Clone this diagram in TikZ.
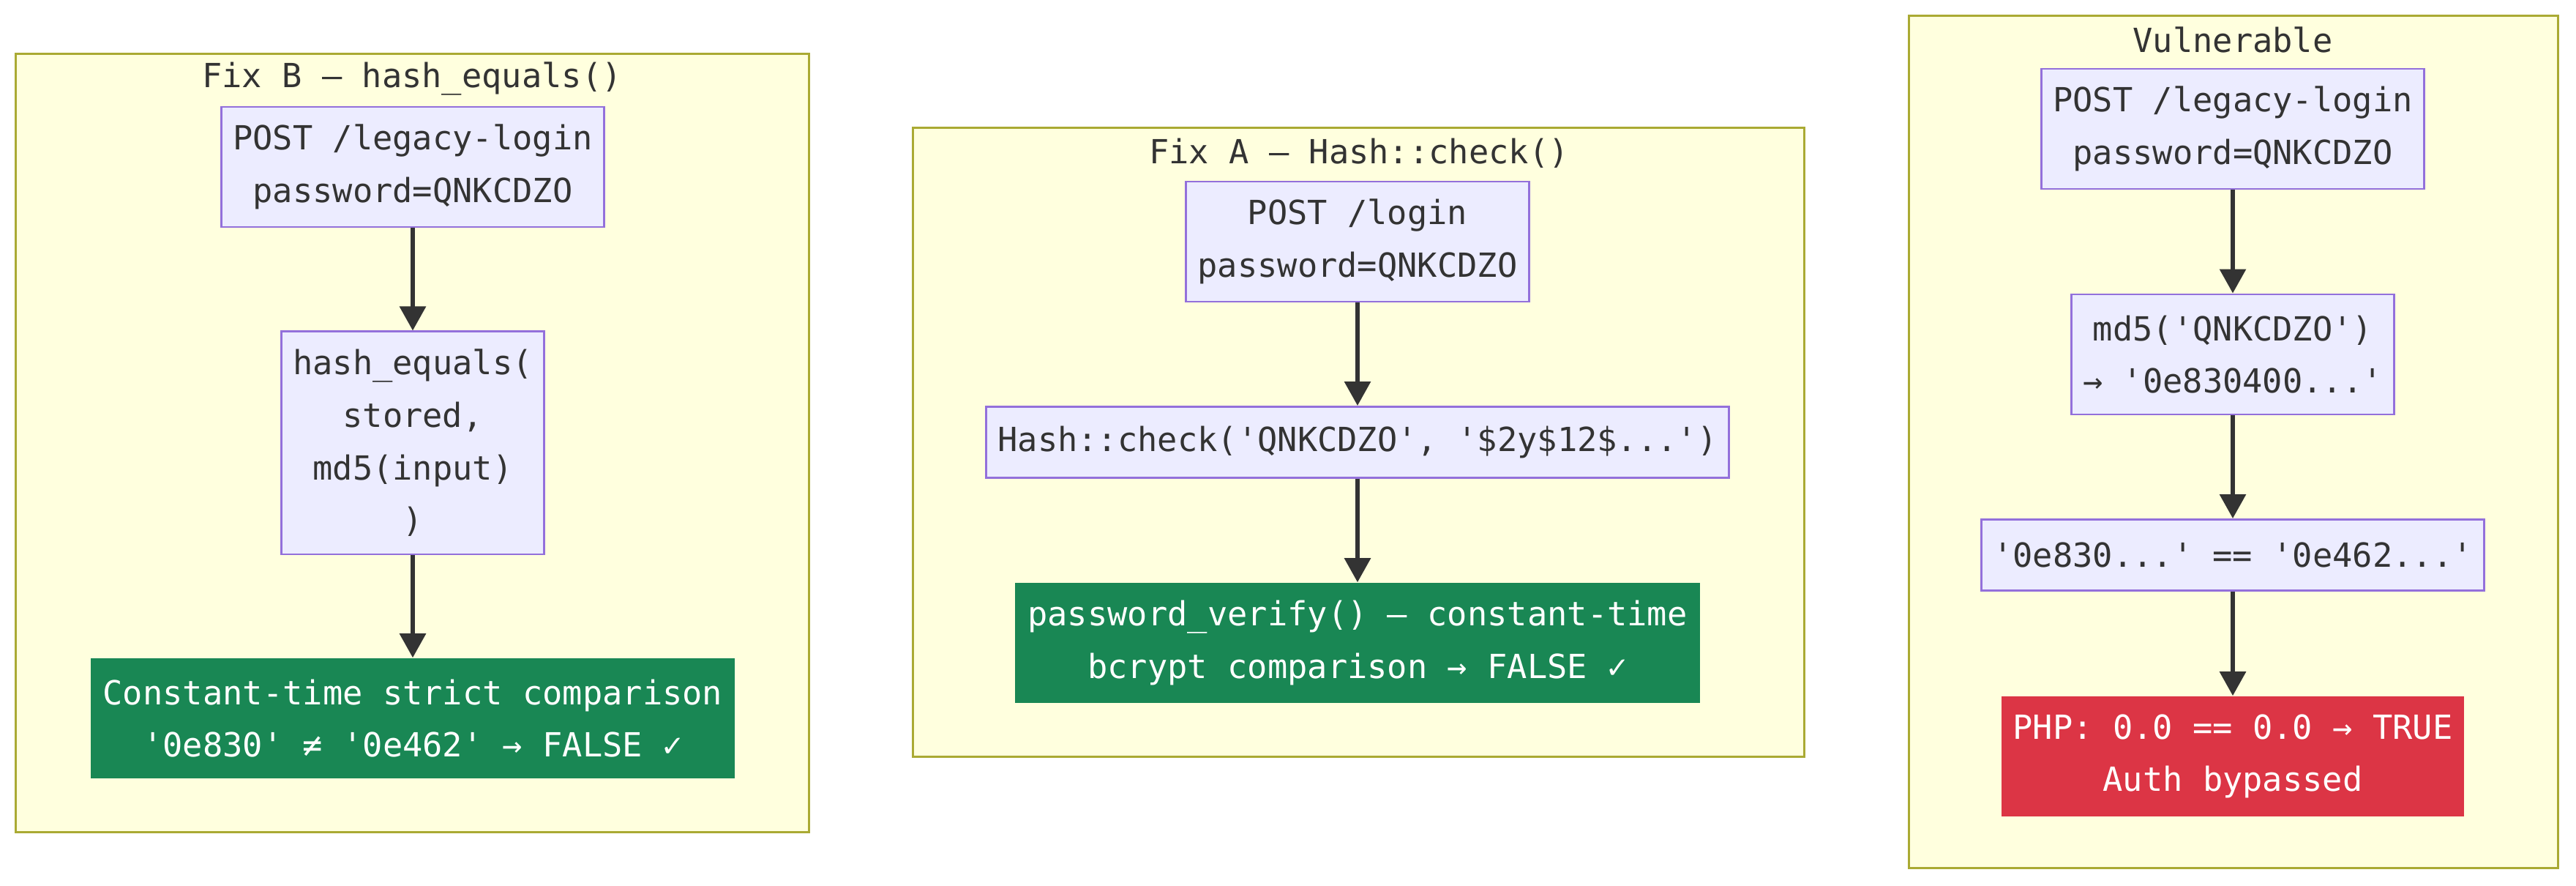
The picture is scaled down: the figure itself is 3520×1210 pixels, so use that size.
\documentclass[tikz,border=0pt]{standalone}
\usepackage{fontspec}
\setmonofont{DejaVu Sans Mono}
\usetikzlibrary{positioning,arrows.meta}
\definecolor{grpbg}{HTML}{FFFFDE}
\definecolor{grpline}{HTML}{AAAA33}
\definecolor{stepbg}{HTML}{ECECFF}
\definecolor{stepline}{HTML}{9370DB}
\definecolor{ink}{HTML}{333333}
\definecolor{okgreen}{HTML}{198754}
\definecolor{badred}{HTML}{DC3545}
\newcommand{\mono}{\ttfamily\fontsize{12.9}{20.4}\selectfont}
\tikzset{
  grp/.style    ={draw=grpline, line width=.8pt, fill=grpbg, inner sep=0pt},
  grplbl/.style ={font=\mono, text=ink, inner sep=0pt},
  stepbox/.style={draw=stepline, line width=.8pt, fill=stepbg, text=ink, align=center, font=\mono, inner xsep=.16cm, inner ysep=0pt},
  okbox/.style  ={fill=okgreen, text=white, align=center, font=\mono, inner xsep=.17cm, inner ysep=0pt},
  badbox/.style ={fill=badred, text=white, align=center, font=\mono, inner xsep=.16cm, inner ysep=0pt},
  two/.style    ={minimum height=1.64cm},
  one/.style    ={minimum height=.97cm},
  ln/.style     ={draw=ink, line width=1.7pt, -{Triangle[length=3.3mm,width=3.5mm]}},
}
\begin{document}
\begin{tikzpicture}[x=0.01cm,y=-0.01cm]
    \useasboundingbox (0,0) rectangle (3520,1210);

    % groups
    \node[grp,minimum width=10.83cm,minimum height=10.62cm] (fixB) at (563.5,605) {};
    \node[grp,minimum width=12.17cm,minimum height=8.58cm] (fixA) at (1856.5,604) {};
    \node[grp,minimum width=8.86cm,minimum height=11.63cm] (vuln) at (3052,603.5) {};
    \node[grplbl] (fixBl) at (563,108) {Fix B — hash\_equals()};
    \node[grplbl] (fixAl) at (1857,209) {Fix A — Hash::check()};
    \node[grplbl] (vulnl) at (3051,54) {Vulnerable};

    % Fix B
    \node[stepbox,two] (b1) at (564,228) {POST /legacy-login\\ password=QNKCDZO};
    \node[stepbox,minimum height=3.04cm] (b2) at (564,605) {hash\_equals(\\ stored,\\ md5(input)\\ )};
    \node[okbox,two] (b3) at (564,981) {Constant-time strict comparison\\ '0e830' ≠ '0e462' → FALSE ✓};

    % Fix A
    \node[stepbox,two] (a1) at (1855,330) {POST /login\\ password=QNKCDZO};
    \node[stepbox,one] (a2) at (1855,604) {Hash::check('QNKCDZO', '\$2y\$12\$...')};
    \node[okbox,two] (a3) at (1855,878) {password\_verify() — constant-time\\ bcrypt comparison → FALSE ✓};

    % Vulnerable
    \node[stepbox,two] (v1) at (3051,176) {POST /legacy-login\\ password=QNKCDZO};
    \node[stepbox,two] (v2) at (3051,484) {md5('QNKCDZO')\\ → '0e830400...'};
    \node[stepbox,one] (v3) at (3051,758) {'0e830...' == '0e462...'};
    \node[badbox,two] (v4) at (3051,1033) {PHP: 0.0 == 0.0 → TRUE\\ Auth bypassed};

    \draw[ln] (b1) -- (b2);
    \draw[ln] (b2) -- (b3);
    \draw[ln] (a1) -- (a2);
    \draw[ln] (a2) -- (a3);
    \draw[ln] (v1) -- (v2);
    \draw[ln] (v2) -- (v3);
    \draw[ln] (v3) -- (v4);
\end{tikzpicture}
\end{document}
